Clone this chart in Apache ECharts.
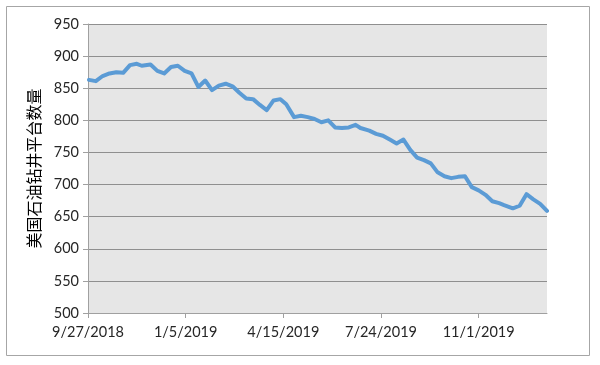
<!DOCTYPE html>
<html><head><meta charset="utf-8">
<script src="https://cdn.jsdelivr.net/npm/echarts@6/dist/echarts.min.js"></script>
<style>html,body{margin:0;padding:0;background:#fff}#c{width:600px;height:365px}</style>
</head><body><div id="c"></div>
<script>
const dates = ["2018-09-28","2018-10-05","2018-10-12","2018-10-19","2018-10-26","2018-11-02","2018-11-09","2018-11-16","2018-11-21","2018-11-30","2018-12-07","2018-12-14","2018-12-21","2018-12-28","2019-01-04","2019-01-11","2019-01-18","2019-01-25","2019-02-01","2019-02-08","2019-02-15","2019-02-22","2019-03-01","2019-03-08","2019-03-15","2019-03-22","2019-03-29","2019-04-05","2019-04-12","2019-04-18","2019-04-26","2019-05-03","2019-05-10","2019-05-17","2019-05-24","2019-05-31","2019-06-07","2019-06-14","2019-06-21","2019-06-28","2019-07-03","2019-07-12","2019-07-19","2019-07-26","2019-08-02","2019-08-09","2019-08-16","2019-08-23","2019-08-30","2019-09-06","2019-09-13","2019-09-20","2019-09-27","2019-10-04","2019-10-11","2019-10-18","2019-10-25","2019-11-01","2019-11-08","2019-11-15","2019-11-22","2019-11-27","2019-12-06","2019-12-13","2019-12-20","2019-12-27","2020-01-03","2020-01-10"];
const rigCounts = [863,861,869,873,875,874,886,888,885,887,877,873,883,885,877,873,852,862,847,854,857,853,843,834,833,824,816,831,833,825,805,807,805,802,797,800,789,788,789,793,788,784,779,776,770,764,770,754,742,738,733,719,713,710,712,713,696,691,684,674,671,668,663,667,685,677,670,659];
const axisStart = "2018-09-27";
const axisEnd = "2020-01-10";
const xTickDays = [0,100,200,300,400];
const yAxisName = "美国石油钻井平台数量";

const DAY = 86400000;
const t0 = Date.parse(axisStart + "T00:00:00Z");
const dayOf = s => Math.round((Date.parse(s + "T00:00:00Z") - t0) / DAY);
const fmt = d => { const dt = new Date(t0 + d * DAY); return (dt.getUTCMonth()+1) + "/" + dt.getUTCDate() + "/" + dt.getUTCFullYear(); };

const chart = echarts.init(document.getElementById('c'), null, {renderer:'canvas'});
const font = 'Lato, "Noto Sans CJK SC", sans-serif';
chart.setOption({
  backgroundColor: '#fff',
  animation: false,
  textStyle: {fontFamily: font},
  graphic: [{type:'rect', shape:{x:6.5,y:6.5,width:583,height:349}, style:{fill:'none', stroke:'#a6a6a6', lineWidth:1}, silent:true}],
  grid: {left:88, top:24, right:53, bottom:52, show:true, backgroundColor:'#e6e6e6', borderWidth:0},
  xAxis: {
    type:'value', min:0, max:dayOf(axisEnd), interval:100,
    axisLine:{show:true, lineStyle:{color:'#a0a0a0', width:1}},
    axisTick:{show:true, length:5, customValues:xTickDays, lineStyle:{color:'#a0a0a0'}},
    axisLabel:{customValues:xTickDays, formatter:v=>fmt(v), color:'#262626', fontSize:14.5, margin:12, fontFamily:font},
    splitLine:{show:false}
  },
  yAxis: {
    type:'value', min:500, max:950, interval:50,
    name:yAxisName, nameLocation:'middle', nameGap:46, nameRotate:90,
    nameTextStyle:{fontSize:16, color:'#000', fontFamily:'"Noto Sans CJK SC", sans-serif'},
    axisLine:{show:true, lineStyle:{color:'#a0a0a0', width:1}},
    axisTick:{show:true, length:5, lineStyle:{color:'#a0a0a0'}},
    axisLabel:{color:'#262626', fontSize:14.5, margin:9, fontFamily:font},
    splitLine:{show:true, lineStyle:{color:'#8f8f8f', width:1}}
  },
  series: [{
    type:'line', showSymbol:false, symbol:'none',
    data: dates.map((d,i)=>[dayOf(d), rigCounts[i]]),
    lineStyle:{color:'#5b9bd5', width:4, join:'round', cap:'round'},
    itemStyle:{color:'#5b9bd5'}
  }]
});
</script></body></html>
